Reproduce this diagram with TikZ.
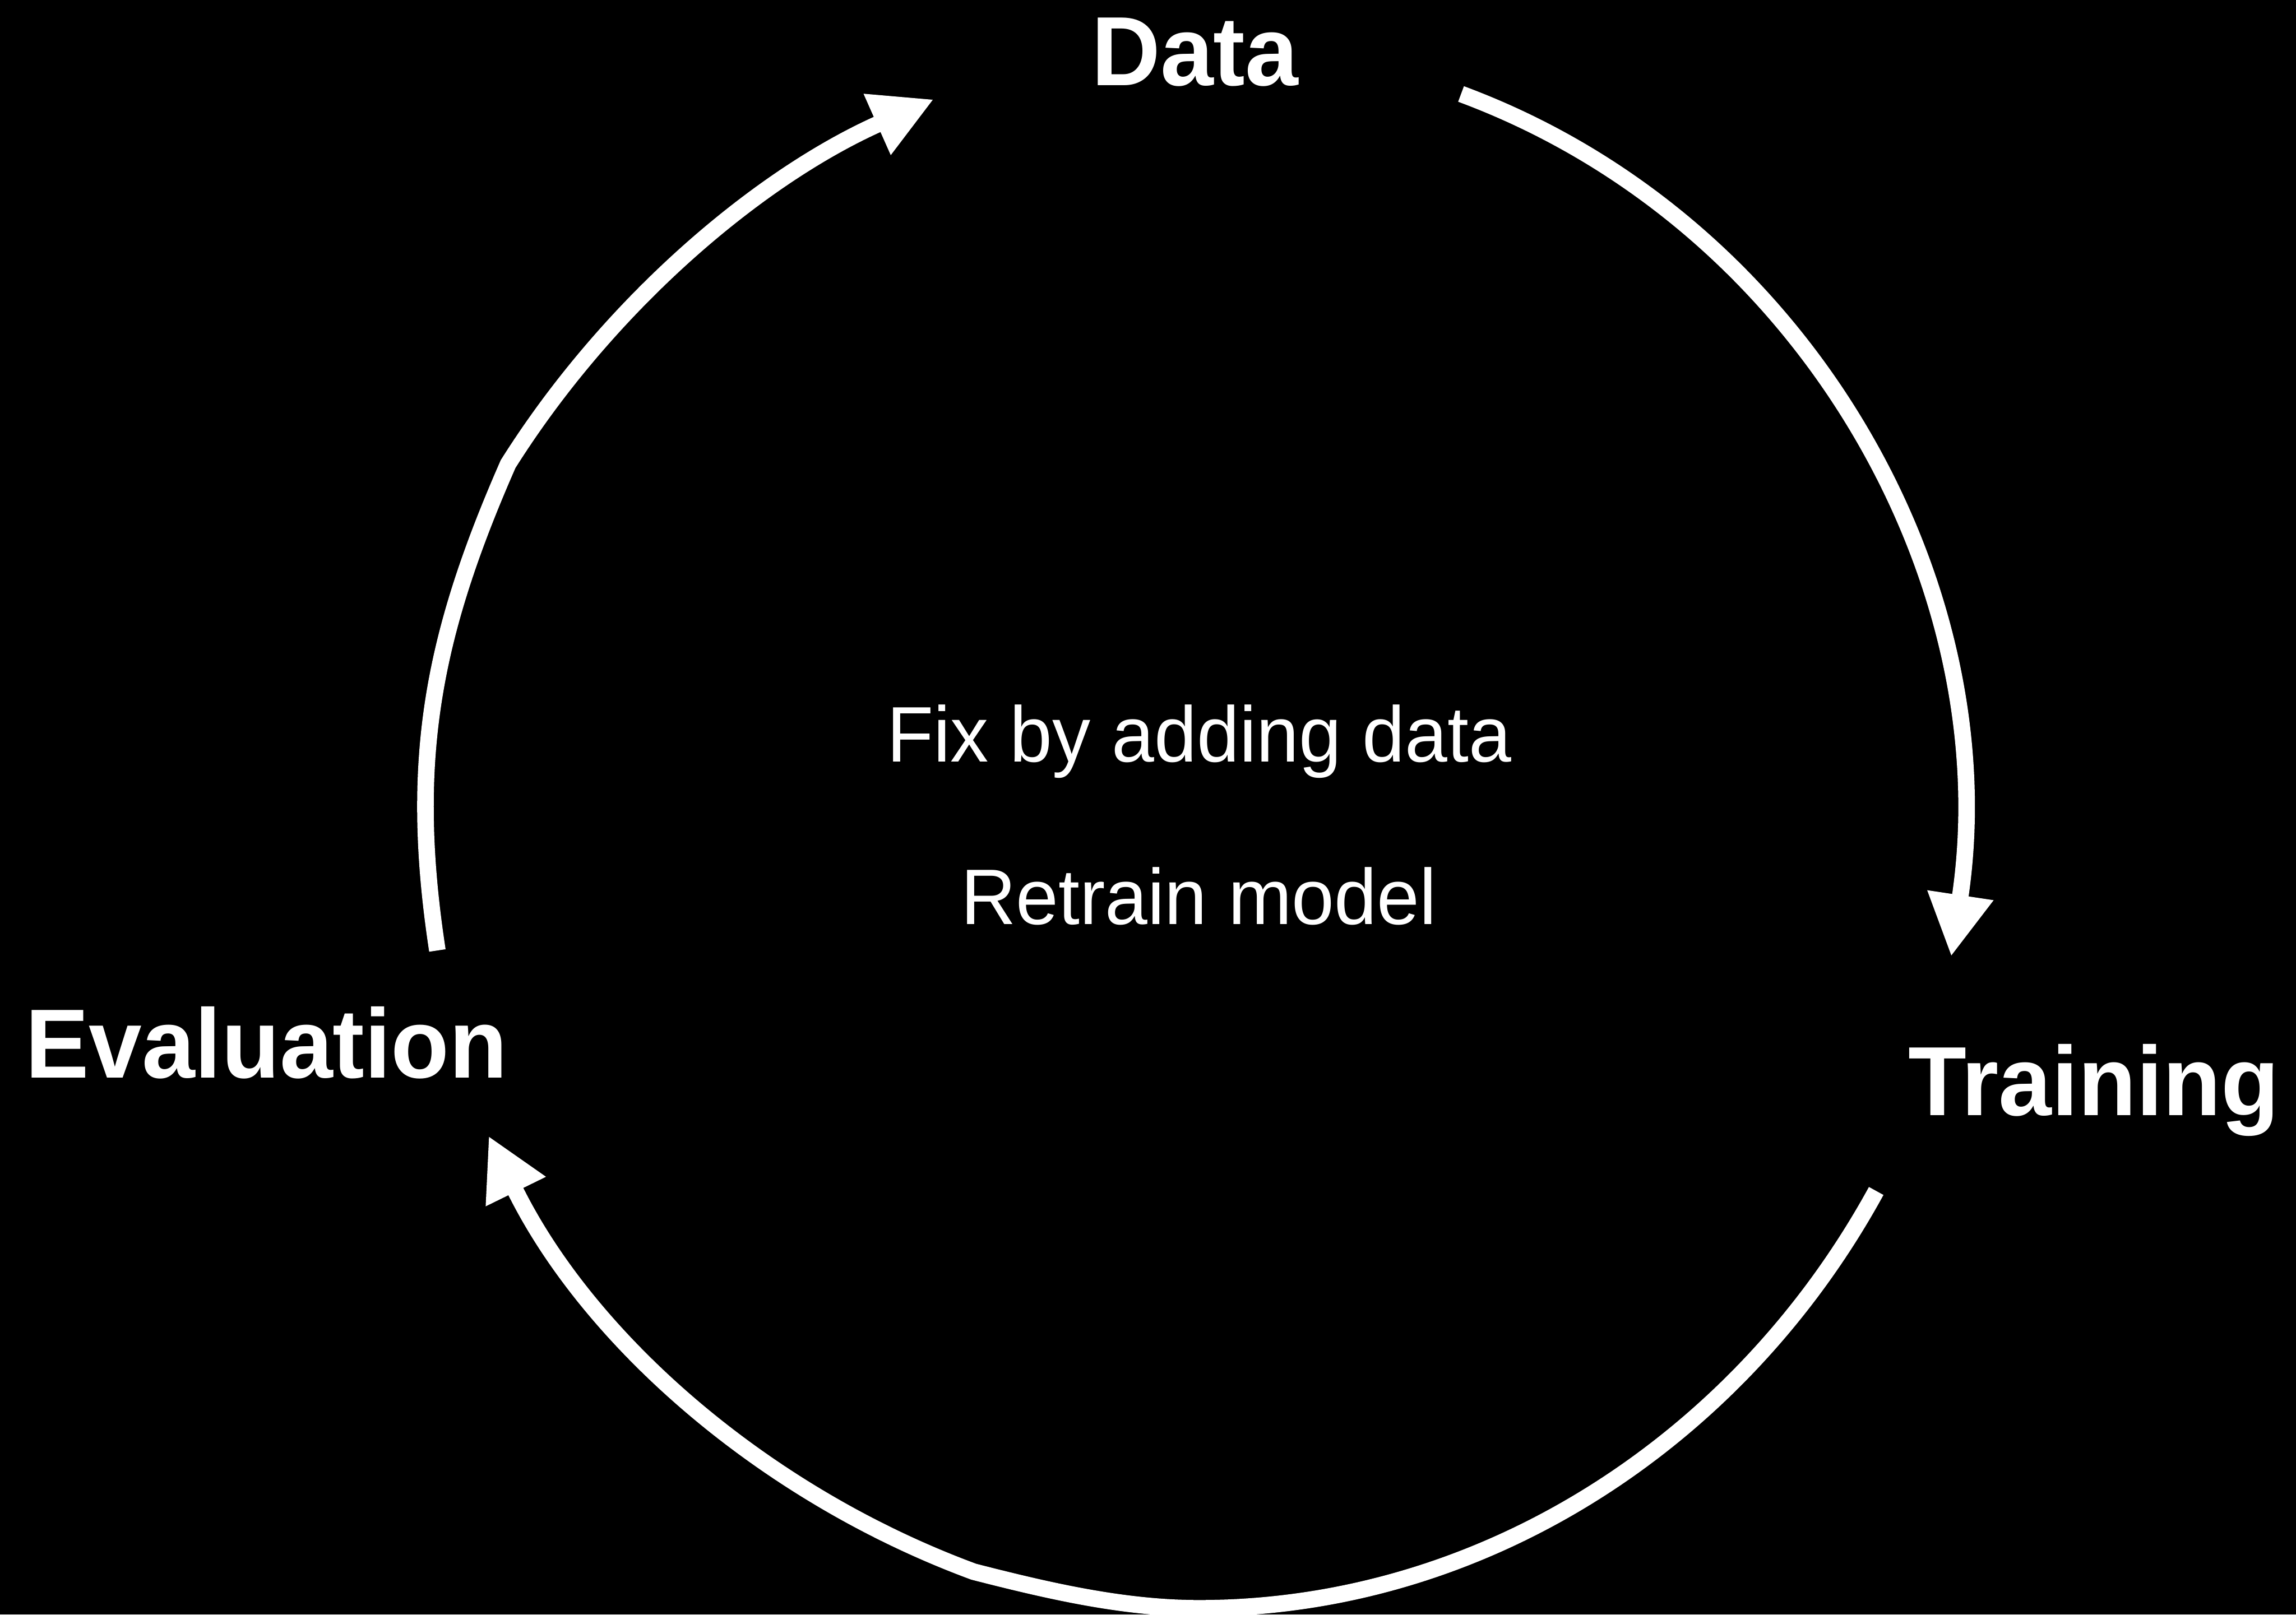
\documentclass[tikz,border=0pt]{standalone}
\usepackage{fontspec}
\setmainfont{Liberation Sans}[FakeStretch=0.97]
\usetikzlibrary{arrows.meta}
\begin{document}
\begin{tikzpicture}[x=0.01cm,y=-0.01cm,
  stage/.style={text=white, font=\fontsize{19.1}{23}\selectfont\bfseries, inner sep=0pt, anchor=base},
  note/.style={text=white, font=\fontsize{15.3}{18}\selectfont, inner sep=0pt, anchor=base},
  loop/.style={draw=white, line width=0.113cm, line cap=butt,
    -{Triangle[length=0.424cm,width=0.425cm]}}]
% canvas
\fill[black] (0,0) rectangle (1568,1103);
\useasboundingbox (0,0) rectangle (1568,1103);

% stage labels
\node[stage] (data)  at (816,58.4)  {Data};
\node[stage] (train) at (1430,762)  {Training};
\node[stage] (eval)  at (182,736.4) {Evaluation};

% centre notes
\node[note] (fix)     at (819,520.6) {Fix by adding data};
\node[note] (retrain) at (818.6,631.3) {Retrain model};

% ends of the cycle arrows
\coordinate (evalOut)  at (298.7,649.3);
\coordinate (bendA)    at (347,317);
\coordinate (dataIn)   at (637.8,67.8);
\coordinate (dataOut)  at (997.8,64.2);
\coordinate (trainIn)  at (1332.5,653.5);
\coordinate (trainOut) at (1281.3,813.6);
\coordinate (lowest)   at (818.8,1098.7);
\coordinate (bendC)    at (665,1073.7);
\coordinate (evalIn)   at (333.6,775.9);

% Evaluation -> Data
\draw[loop] (evalOut) .. controls (279.1,520.9) and (294.7,436.1) .. (bendA)
  .. controls (416.3,206.9) and (519,120.5) .. (dataIn);
% Data -> Training
\draw[loop] (dataOut) .. controls (1235.8,152.6) and (1370.3,402.3) .. (trainIn);
% Training -> Evaluation
\draw[loop] (trainOut) .. controls (1188,984.1) and (1013.2,1098.7) .. (lowest)
  .. controls (766.8,1098.7) and (715.4,1086.6) .. (bendC)
  .. controls (520.5,1020.3) and (401.4,914.2) .. (evalIn);
\end{tikzpicture}
\end{document}
